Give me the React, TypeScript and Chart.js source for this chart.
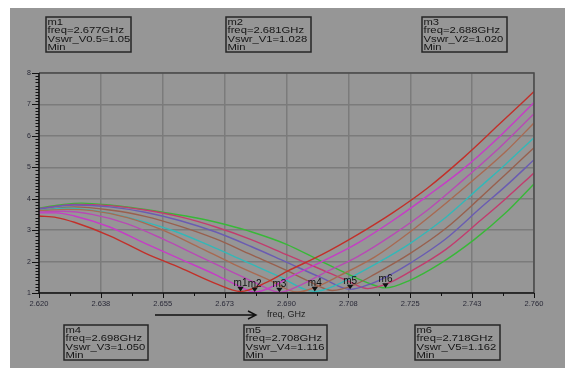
import React, { useEffect, useRef } from "react";
import { Chart, registerables } from "chart.js";

Chart.register(...registerables);

// ---------- axis ticks ----------
const xTickValues = [2.62, 2.6375, 2.655, 2.6725, 2.69, 2.7075, 2.725, 2.7425, 2.76];
const xTickLabels = ["2.620", "2.638", "2.655", "2.673", "2.690", "2.708", "2.725", "2.743", "2.760"];
const yTickValues = [1, 2, 3, 4, 5, 6, 7, 8];
const xAxisTitle = "freq, GHz";

// ---------- series (freq GHz, VSWR) ----------
const seriesNames = ["Vswr_V0.5", "Vswr_V1", "Vswr_V2", "Vswr_V2.5", "Vswr_V3", "Vswr_V3.5", "Vswr_V4", "Vswr_V4.5", "Vswr_V5"];
const seriesColors = ["#c2302a", "#c63cc6", "#b84ab4", "#a86a52", "#32b8b8", "#98604e", "#6a5cb2", "#c23c6e", "#38b838"];

const fV05 = [2.620, 2.625, 2.630, 2.640, 2.650, 2.660, 2.670, 2.677, 2.684, 2.690, 2.700, 2.710, 2.720, 2.730, 2.740, 2.750, 2.760];
const vV05 = [3.45, 3.40, 3.25, 2.82, 2.27, 1.80, 1.30, 1.05, 1.32, 1.68, 2.22, 2.85, 3.55, 4.35, 5.30, 6.35, 7.41];

const fV1 = [2.620, 2.625, 2.630, 2.640, 2.650, 2.660, 2.670, 2.676, 2.681, 2.686, 2.690, 2.700, 2.710, 2.720, 2.730, 2.740, 2.750, 2.760];
const vV1 = [3.55, 3.55, 3.45, 3.10, 2.58, 2.08, 1.58, 1.25, 1.028, 1.20, 1.45, 2.00, 2.58, 3.30, 4.10, 4.95, 5.95, 7.06];

const fV2 = [2.620, 2.627, 2.635, 2.645, 2.655, 2.665, 2.675, 2.682, 2.688, 2.694, 2.700, 2.710, 2.720, 2.730, 2.740, 2.750, 2.760];
const vV2 = [3.58, 3.60, 3.50, 3.20, 2.72, 2.18, 1.65, 1.28, 1.020, 1.25, 1.60, 2.15, 2.85, 3.65, 4.60, 5.60, 6.70];

const fV25 = [2.620, 2.628, 2.635, 2.645, 2.655, 2.665, 2.675, 2.685, 2.693, 2.699, 2.705, 2.715, 2.725, 2.735, 2.745, 2.752, 2.760];
const vV25 = [3.62, 3.66, 3.62, 3.40, 3.00, 2.47, 1.92, 1.42, 1.03, 1.22, 1.55, 2.15, 2.95, 3.85, 4.80, 5.50, 6.41];

const fV3 = [2.620, 2.628, 2.638, 2.648, 2.658, 2.668, 2.678, 2.688, 2.698, 2.704, 2.710, 2.718, 2.725, 2.735, 2.745, 2.752, 2.760];
const vV3 = [3.62, 3.70, 3.58, 3.32, 2.98, 2.52, 2.02, 1.52, 1.050, 1.25, 1.60, 2.10, 2.58, 3.40, 4.40, 5.10, 5.94];

const fV35 = [2.620, 2.630, 2.640, 2.650, 2.660, 2.670, 2.680, 2.690, 2.697, 2.703, 2.709, 2.715, 2.725, 2.735, 2.745, 2.752, 2.760];
const vV35 = [3.62, 3.74, 3.64, 3.44, 3.12, 2.72, 2.22, 1.72, 1.34, 1.08, 1.25, 1.60, 2.26, 3.05, 4.05, 4.78, 5.62];

const fV4 = [2.620, 2.630, 2.640, 2.650, 2.660, 2.670, 2.680, 2.690, 2.700, 2.708, 2.714, 2.720, 2.725, 2.735, 2.745, 2.752, 2.760];
const vV4 = [3.68, 3.80, 3.74, 3.57, 3.30, 2.94, 2.48, 1.98, 1.48, 1.116, 1.30, 1.62, 1.95, 2.72, 3.72, 4.40, 5.24];

const fV45 = [2.620, 2.630, 2.640, 2.650, 2.660, 2.670, 2.680, 2.690, 2.700, 2.707, 2.713, 2.719, 2.725, 2.735, 2.745, 2.752, 2.760];
const vV45 = [3.68, 3.82, 3.78, 3.64, 3.42, 3.10, 2.70, 2.22, 1.74, 1.40, 1.14, 1.32, 1.68, 2.38, 3.32, 4.00, 4.82];

const fV5 = [2.620, 2.626, 2.632, 2.640, 2.646, 2.655, 2.665, 2.673, 2.680, 2.690, 2.700, 2.708, 2.713, 2.718, 2.725, 2.733, 2.743, 2.752, 2.760];
const vV5 = [3.70, 3.80, 3.86, 3.80, 3.72, 3.57, 3.38, 3.17, 2.95, 2.55, 2.00, 1.57, 1.32, 1.162, 1.41, 1.90, 2.69, 3.55, 4.47];

const seriesFreqs = [fV05, fV1, fV2, fV25, fV3, fV35, fV4, fV45, fV5];
const seriesVswr = [vV05, vV1, vV2, vV25, vV3, vV35, vV4, vV45, vV5];

// ---------- markers ----------
const markerNames = ["m1", "m2", "m3", "m4", "m5", "m6"];
const markerFreqs = [2.677, 2.681, 2.688, 2.698, 2.708, 2.718];
const markerTraces = ["Vswr_V0.5", "Vswr_V1", "Vswr_V2", "Vswr_V3", "Vswr_V4", "Vswr_V5"];
const markerValues = ["1.05", "1.028", "1.020", "1.050", "1.116", "1.162"];
const markerFreqText = ["2.677", "2.681", "2.688", "2.698", "2.708", "2.718"];

// box placement (layout only)
const boxRects = [
  [46, 17, 85, 35],
  [226, 17, 85, 35],
  [422, 17, 85, 35],
  [64, 325, 84, 35],
  [244, 325, 83, 35],
  [415, 325, 85, 35],
];

const PANEL = "#969696";
const GRID = "#7b7b7b";
const FONT = '"Liberation Sans", Arial, sans-serif';

const bgPlugin = {
  id: "bgPanel",
  beforeDraw(chart: any) {
    const ctx = chart.ctx;
    ctx.save();
    ctx.fillStyle = "#ffffff";
    ctx.fillRect(0, 0, chart.width, chart.height);
    ctx.fillStyle = PANEL;
    ctx.fillRect(10, 8, chart.width - 10, chart.height - 8);
    ctx.restore();
  },
};

const overlayPlugin = {
  id: "overlay",
  afterDatasetsDraw(chart: any) {
    const ctx = chart.ctx;
    const { left, right, top, bottom } = chart.chartArea;
    const xs = chart.scales.x;
    const ys = chart.scales.y;
    ctx.save();

    // frame
    ctx.lineWidth = 1.5;
    ctx.strokeStyle = "#4a4a4a";
    ctx.beginPath();
    ctx.moveTo(left, top);
    ctx.lineTo(right, top);
    ctx.lineTo(right, bottom);
    ctx.stroke();
    ctx.strokeStyle = "#111111";
    ctx.beginPath();
    ctx.moveTo(left, top);
    ctx.lineTo(left, bottom);
    ctx.lineTo(right, bottom);
    ctx.stroke();

    // y ticks (major + minor)
    ctx.lineWidth = 1;
    ctx.strokeStyle = "#111111";
    const yMin = yTickValues[0];
    const yMax = yTickValues[yTickValues.length - 1];
    for (let k = yMin * 10; k <= yMax * 10; k++) {
      const y = Math.round(ys.getPixelForValue(k / 10)) + 0.5;
      const len = k % 10 === 0 ? 7 : 3.5;
      ctx.beginPath();
      ctx.moveTo(left - len, y);
      ctx.lineTo(left, y);
      ctx.stroke();
    }
    // x ticks (major + minor)
    for (let i = 0; i < xTickValues.length; i++) {
      const x = Math.round(xs.getPixelForValue(xTickValues[i])) + 0.5;
      ctx.beginPath();
      ctx.moveTo(x, bottom);
      ctx.lineTo(x, bottom + 5);
      ctx.stroke();
      if (i < xTickValues.length - 1) {
        const xm = Math.round(xs.getPixelForValue((xTickValues[i] + xTickValues[i + 1]) / 2)) + 0.5;
        ctx.beginPath();
        ctx.moveTo(xm, bottom);
        ctx.lineTo(xm, bottom + 3);
        ctx.stroke();
      }
    }

    // axis arrow + title
    ctx.strokeStyle = "#111111";
    ctx.lineWidth = 1.4;
    ctx.beginPath();
    ctx.moveTo(155, 315);
    ctx.lineTo(256, 315);
    ctx.moveTo(248, 311);
    ctx.lineTo(256, 315);
    ctx.lineTo(248, 319);
    ctx.stroke();
    ctx.fillStyle = "#222222";
    ctx.font = `9px ${FONT}`;
    ctx.textAlign = "left";
    ctx.textBaseline = "middle";
    ctx.fillText(xAxisTitle, 267, 315);

    // markers
    ctx.fillStyle = "#111111";
    ctx.textAlign = "center";
    ctx.textBaseline = "alphabetic";
    ctx.font = `10px ${FONT}`;
    for (let i = 0; i < markerNames.length; i++) {
      const px = xs.getPixelForValue(markerFreqs[i]);
      const py = ys.getPixelForValue(parseFloat(markerValues[i]));
      ctx.beginPath();
      ctx.moveTo(px - 3.2, py - 4.6);
      ctx.lineTo(px + 3.2, py - 4.6);
      ctx.lineTo(px, py);
      ctx.closePath();
      ctx.fill();
      ctx.fillText(markerNames[i], px, py - 5.5);
    }

    // marker readout boxes
    ctx.textAlign = "left";
    ctx.font = `9.4px ${FONT}`;
    for (let i = 0; i < markerNames.length; i++) {
      const [bx, by, bw, bh] = boxRects[i];
      ctx.strokeStyle = "#262626";
      ctx.lineWidth = 1.5;
      ctx.strokeRect(bx, by, bw, bh);
      const lines = [
        markerNames[i],
        `freq=${markerFreqText[i]}GHz`,
        `${markerTraces[i]}=${markerValues[i]}`,
        "Min",
      ];
      ctx.fillStyle = "#141414";
      lines.forEach((t, j) => {
        ctx.save();
        ctx.translate(bx + 1.5, by + 8 + j * 8.35);
        ctx.scale(1.2, 1);
        ctx.fillText(t, 0, 0);
        ctx.restore();
      });
    }
    ctx.restore();
  },
};

export default function App() {
  const ref = useRef<HTMLCanvasElement | null>(null);
  useEffect(() => {
    if (!ref.current) return;
    const datasets = seriesNames.map((name, i) => ({
      label: name,
      data: seriesFreqs[i].map((f, j) => ({ x: f, y: seriesVswr[i][j] })),
      borderColor: seriesColors[i],
      borderWidth: 1.4,
      pointRadius: 0,
      fill: false,
      cubicInterpolationMode: "monotone" as const,
    }));
    const chart = new Chart(ref.current, {
      type: "line",
      data: { datasets },
      options: {
        animation: false,
        responsive: false,
        devicePixelRatio: 1,
        events: [],
        layout: { padding: { left: 0, top: 73, right: 31, bottom: 0 } },
        plugins: { legend: { display: false }, tooltip: { enabled: false }, title: { display: false } },
        scales: {
          x: {
            type: "linear",
            min: xTickValues[0],
            max: xTickValues[xTickValues.length - 1],
            afterBuildTicks: (s: any) => {
              s.ticks = xTickValues.map((v) => ({ value: v }));
            },
            afterFit: (s: any) => {
              s.height = 75;
            },
            ticks: {
              autoSkip: false,
              maxRotation: 0,
              padding: 6,
              color: "#2a2a38",
              font: { size: 7.5, family: FONT },
              callback: (_v: any, i: number) => xTickLabels[i],
            },
            grid: { color: GRID, lineWidth: 1.5, drawTicks: false },
            border: { display: false },
          },
          y: {
            type: "linear",
            min: yTickValues[0],
            max: yTickValues[yTickValues.length - 1],
            afterBuildTicks: (s: any) => {
              s.ticks = yTickValues.map((v) => ({ value: v }));
            },
            afterFit: (s: any) => {
              s.width = 39;
            },
            ticks: {
              padding: 8,
              color: "#2a2a38",
              font: { size: 7, family: FONT },
              callback: (v: any) => String(v),
            },
            grid: { color: GRID, lineWidth: 1.5, drawTicks: false },
            border: { display: false },
          },
        },
      },
      plugins: [bgPlugin, overlayPlugin],
    });
    return () => chart.destroy();
  }, []);
  return (
    <div style={{ position: "absolute", left: 0, top: 0, width: 565, height: 368 }}>
      <canvas ref={ref} width={565} height={368} style={{ display: "block" }} />
    </div>
  );
}
